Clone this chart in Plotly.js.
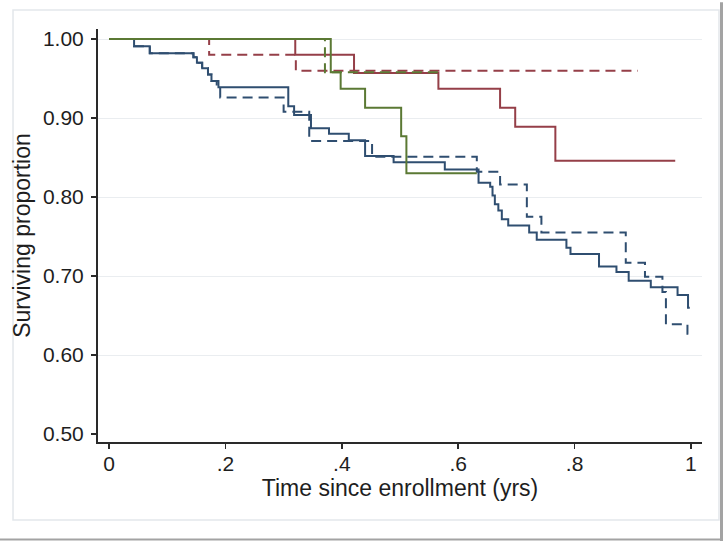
<!DOCTYPE html>
<html>
<head>
<meta charset="utf-8">
<script src="https://cdn.plot.ly/plotly-3.0.1.min.js"></script>
<style>
  html, body { margin: 0; padding: 0; background: #ffffff; }
  #chart { width: 723px; height: 541px; }
</style>
</head>
<body>
<div id="chart"></div>
<script>
// ---- Data ----
// Group 1 (blue), solid
const blueSolidT = [0, 0.043, 0.070, 0.145, 0.151, 0.160, 0.170, 0.176, 0.188, 0.308, 0.318, 0.347, 0.378, 0.412, 0.440, 0.489, 0.577, 0.635, 0.655, 0.659, 0.663, 0.669, 0.675, 0.686, 0.722, 0.735, 0.786, 0.793, 0.842, 0.872, 0.893, 0.931, 0.977, 0.995, 0.998];
const blueSolidS = [1.000, 0.991, 0.982, 0.977, 0.970, 0.963, 0.955, 0.947, 0.939, 0.915, 0.904, 0.887, 0.880, 0.872, 0.852, 0.844, 0.835, 0.818, 0.813, 0.802, 0.791, 0.783, 0.772, 0.764, 0.755, 0.746, 0.736, 0.728, 0.712, 0.705, 0.694, 0.686, 0.676, 0.660, 0.660];
// Group 1 (blue), dashed
const blueDashT = [0, 0.043, 0.070, 0.145, 0.151, 0.160, 0.170, 0.176, 0.185, 0.191, 0.300, 0.344, 0.452, 0.632, 0.672, 0.718, 0.743, 0.888, 0.921, 0.951, 0.957, 0.994, 0.997];
const blueDashS = [1.000, 0.991, 0.982, 0.977, 0.970, 0.963, 0.955, 0.947, 0.939, 0.926, 0.908, 0.871, 0.851, 0.832, 0.816, 0.775, 0.755, 0.717, 0.699, 0.680, 0.639, 0.627, 0.627];
// Group 2 (red), solid
const redSolidT = [0, 0.320, 0.421, 0.566, 0.672, 0.698, 0.767, 0.973];
const redSolidS = [1.000, 0.980, 0.957, 0.937, 0.913, 0.889, 0.846, 0.846];
// Group 2 (red), dashed
const redDashT = [0, 0.172, 0.321, 0.909];
const redDashS = [1.000, 0.980, 0.960, 0.960];
// Group 3 (green), solid
const greenSolidT = [0, 0.381, 0.398, 0.440, 0.502, 0.511, 0.632];
const greenSolidS = [1.000, 0.958, 0.937, 0.913, 0.877, 0.830, 0.830];
// Group 3 (green), dashed
const greenDashT = [0, 0.371, 0.566];
const greenDashS = [1.000, 0.958, 0.958];

// Axis ticks
const xTickVals = [0, 0.2, 0.4, 0.6, 0.8, 1];
const xTickText = ['0', '.2', '.4', '.6', '.8', '1'];
const yTickVals = [0.5, 0.6, 0.7, 0.8, 0.9, 1.0];
const yGridVals = [0.6, 0.7, 0.8, 0.9, 1.0];

// ---- Styles ----
const BLUE = '#2f4e70';
const RED = '#953f48';
const GREEN = '#5b7934';
const DASH = '10px,6px';
const FONT = 'Liberation Sans, Arial, Helvetica, sans-serif';

function step(t, s, color, dash, width) {
  return {
    x: t, y: s, type: 'scatter', mode: 'lines',
    line: { shape: 'hv', color: color, width: width, dash: dash },
    hoverinfo: 'skip', showlegend: false
  };
}

const traces = [
  // invisible trace to activate the grid-only overlay axis
  { x: [], y: [], yaxis: 'y2', type: 'scatter', mode: 'lines', hoverinfo: 'skip', showlegend: false },
  step(blueSolidT, blueSolidS, BLUE, 'solid', 2),
  step(blueDashT, blueDashS, BLUE, DASH, 2),
  step(redSolidT, redSolidS, RED, 'solid', 2),
  step(redDashT, redDashS, RED, DASH, 2),
  step(greenDashT, greenDashS, GREEN, DASH, 2),
  step(greenSolidT, greenSolidS, GREEN, 'solid', 2)
];

const yRange = [0.49, 1.0127];

const layout = {
  width: 723, height: 541,
  paper_bgcolor: '#ffffff', plot_bgcolor: '#ffffff',
  margin: { l: 98, r: 21, t: 29, b: 99, autoexpand: false },
  font: { family: FONT, color: '#1e1e1e' },
  showlegend: false,
  xaxis: {
    range: [-0.019, 1.019], tickvals: xTickVals, ticktext: xTickText,
    showgrid: false, zeroline: false,
    showline: true, linecolor: '#2a2a2a', linewidth: 2,
    ticks: 'outside', ticklen: 5, tickwidth: 1.5, tickcolor: '#2a2a2a',
    ticklabelstandoff: -3,
    tickfont: { size: 21, family: FONT, color: '#1e1e1e' },
    title: { text: 'Time since enrollment (yrs)', font: { size: 23, family: FONT, color: '#1e1e1e' }, standoff: 2 },
    automargin: false, fixedrange: true
  },
  yaxis: {
    range: yRange, tickvals: yTickVals, tickformat: '.2f',
    showgrid: false, zeroline: false,
    showline: true, linecolor: '#2a2a2a', linewidth: 2,
    ticks: 'outside', ticklen: 5, tickwidth: 1.5, tickcolor: '#2a2a2a',
    ticklabelstandoff: 3,
    tickfont: { size: 21, family: FONT, color: '#1e1e1e' },
    title: { text: 'Surviving proportion', font: { size: 23, family: FONT, color: '#1e1e1e' }, standoff: 6 },
    automargin: false, fixedrange: true
  },
  yaxis2: {
    overlaying: 'y', range: yRange, tickvals: yGridVals,
    showgrid: true, gridcolor: '#eaedf0', gridwidth: 1,
    showticklabels: false, ticks: '', showline: false, zeroline: false,
    fixedrange: true
  },
  shapes: [
    { type: 'rect', xref: 'paper', yref: 'paper', x0: -0.1407, x1: 1.0281, y0: -0.1889, y1: 1.046,
      line: { color: '#e3e7eb', width: 1.5 }, fillcolor: 'rgba(0,0,0,0)', layer: 'below' },
    { type: 'line', xref: 'paper', yref: 'paper', x0: 1.0323, x1: 1.0323, y0: 1.065, y1: -0.24,
      line: { color: '#a3a3a3', width: 3 }, layer: 'below' },
    { type: 'line', xref: 'paper', yref: 'paper', x0: -0.17, x1: 1.04, y0: -0.2361, y1: -0.2361,
      line: { color: '#a3a3a3', width: 2 }, layer: 'below' }
  ]
};

Plotly.newPlot('chart', traces, layout, { staticPlot: true, displayModeBar: false });
</script>
</body>
</html>
